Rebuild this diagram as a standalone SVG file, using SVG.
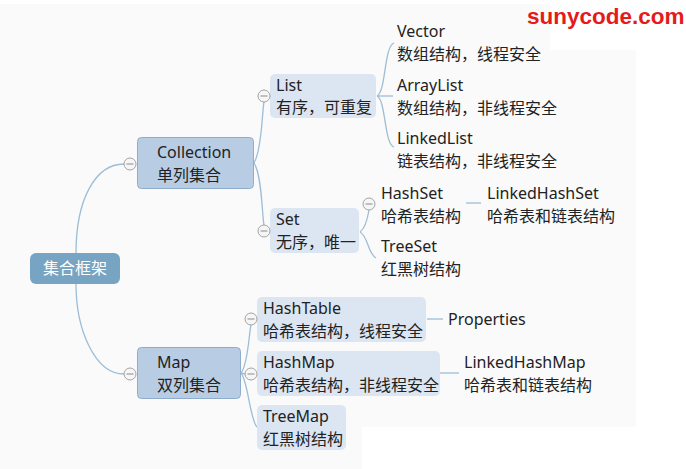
<svg xmlns="http://www.w3.org/2000/svg" width="686" height="469" viewBox="0 0 686 469">
<style>
.t{font-family:"Noto Sans","Noto Sans CJK SC",sans-serif;font-size:16px;fill:#222}
.root{font-family:"Noto Sans","Noto Sans CJK SC",sans-serif;font-size:16px;fill:#ffffff}
.wm{font-family:"Liberation Sans",Arial,sans-serif;font-size:22.5px;font-weight:bold;fill:#e51a1a}
.c{fill:none;stroke:#9dbdd6;stroke-width:1.3}
.l1{fill:#b8cde4;stroke:#8eaccb;stroke-width:1}
.l2{fill:#dce6f2}
.tg circle{fill:#f6f6f6;stroke:#a3a3a3;stroke-width:1}
.tg line{stroke:#8a8a8a;stroke-width:1}
</style>
<defs>
<g id="tog" class="tg"><circle cx="0" cy="0" r="6"/><line x1="-3.5" y1="0" x2="3.5" y2="0"/></g>
</defs>
<rect x="0" y="0" width="686" height="469" fill="#fafafa"/>
<rect x="636" y="0" width="50" height="469" fill="#ffffff"/>
<rect x="0" y="0" width="686" height="4" fill="#ffffff"/>
<rect x="362" y="427" width="324" height="42" fill="#ffffff"/>
<rect x="550" y="0" width="86" height="50" fill="#ffffff"/>
<text class="wm" x="527" y="23.5">sunycode.com</text>

<g id="connectors">
<path class="c" d="M76,253 C76,200 95,164 124,164"/>
<path class="c" d="M76,284 C76,330 95,374 124,374"/>
<path class="c" d="M254,163 C262,150 262,112 264,102"/>
<path class="c" d="M254,163 C262,175 262,215 264,225"/>
<path class="c" d="M377,96 C386,92 384,46 394,43"/>
<path class="c" d="M377,96 L393,96"/>
<path class="c" d="M377,96 C386,100 384,144 394,147"/>
<path class="c" d="M360,232 C366,228 368,216 369,210"/>
<path class="c" d="M360,232 C368,236 368,254 376,258"/>
<path class="c" d="M466,203 L481,203"/>
<path class="c" d="M241,373 C248,365 249,333 251,325"/>
<path class="c" d="M241,373 L245,374"/>
<path class="c" d="M241,373 C248,381 250,420 257,427"/>
<path class="c" d="M427,319 L443,319"/>
<path class="c" d="M440,373 L459,373"/>
</g>

<g id="root">
<rect x="30" y="253" width="90" height="31" rx="6" fill="#78a4c3"/>
<text class="root" x="75" y="274" text-anchor="middle">集合框架</text>
</g>

<g id="collection">
<rect class="l1" x="137.5" y="137.5" width="116" height="51" rx="4"/>
<text class="t" x="157" y="158">Collection</text>
<text class="t" x="157" y="181">单列集合</text>
<use href="#tog" x="130" y="164"/>
</g>

<g id="map">
<rect class="l1" x="137.5" y="347.5" width="103" height="51" rx="4"/>
<text class="t" x="157" y="368">Map</text>
<text class="t" x="157" y="391">双列集合</text>
<use href="#tog" x="130" y="374"/>
</g>

<g id="list">
<rect class="l2" x="270" y="74" width="106" height="44" rx="5"/>
<text class="t" x="276" y="91">List</text>
<text class="t" x="276" y="113">有序，可重复</text>
<use href="#tog" x="264" y="96"/>
</g>

<g id="set">
<rect class="l2" x="270" y="208" width="89" height="45" rx="5"/>
<text class="t" x="276" y="225">Set</text>
<text class="t" x="276" y="248">无序，唯一</text>
<use href="#tog" x="264" y="231"/>
</g>

<g id="vector">
<text class="t" x="397" y="37">Vector</text>
<text class="t" x="397" y="60">数组结构，线程安全</text>
</g>
<g id="arraylist">
<text class="t" x="397" y="91">ArrayList</text>
<text class="t" x="397" y="114">数组结构，非线程安全</text>
</g>
<g id="linkedlist">
<text class="t" x="397" y="144">LinkedList</text>
<text class="t" x="397" y="167">链表结构，非线程安全</text>
</g>

<g id="hashset">
<text class="t" x="381" y="199">HashSet</text>
<text class="t" x="381" y="222">哈希表结构</text>
<use href="#tog" x="369" y="204"/>
</g>
<g id="linkedhashset">
<text class="t" x="487" y="199">LinkedHashSet</text>
<text class="t" x="487" y="222">哈希表和链表结构</text>
</g>
<g id="treeset">
<text class="t" x="381" y="252">TreeSet</text>
<text class="t" x="381" y="275">红黑树结构</text>
</g>

<g id="hashtable">
<rect class="l2" x="257" y="297" width="169" height="45" rx="5"/>
<text class="t" x="263" y="314">HashTable</text>
<text class="t" x="263" y="337">哈希表结构，线程安全</text>
<use href="#tog" x="251" y="319"/>
</g>
<g id="properties">
<text class="t" x="448" y="325">Properties</text>
</g>

<g id="hashmap">
<rect class="l2" x="257" y="351" width="183" height="45" rx="5"/>
<text class="t" x="263" y="368">HashMap</text>
<text class="t" x="263" y="391">哈希表结构，非线程安全</text>
<use href="#tog" x="251" y="374"/>
</g>
<g id="linkedhashmap">
<text class="t" x="464" y="368">LinkedHashMap</text>
<text class="t" x="464" y="391">哈希表和链表结构</text>
</g>

<g id="treemap">
<rect class="l2" x="257" y="405" width="89" height="45" rx="5"/>
<text class="t" x="263" y="422">TreeMap</text>
<text class="t" x="263" y="445">红黑树结构</text>
</g>
</svg>
